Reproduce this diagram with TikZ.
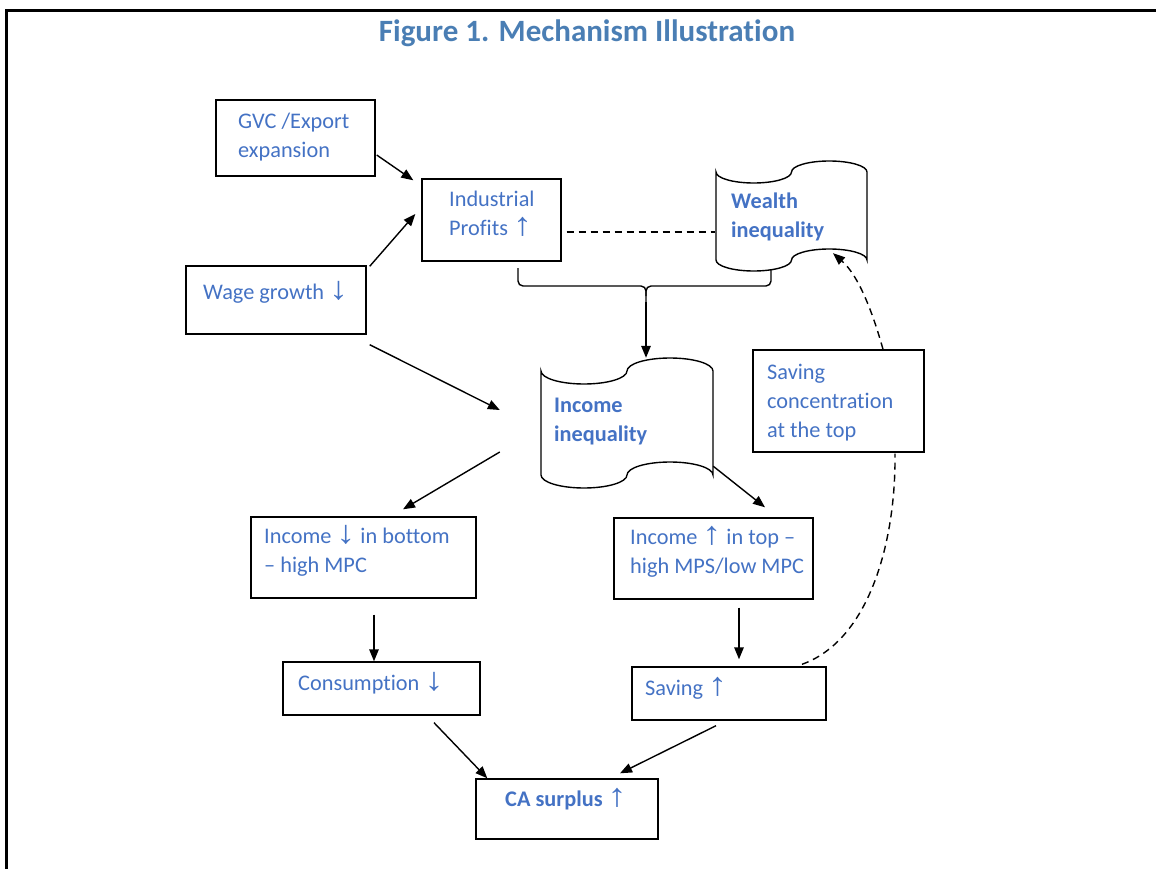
\documentclass[tikz,border=0pt]{standalone}
\usepackage{fontspec}
\usepackage{graphicx}
\setmainfont{Carlito}[Ligatures=NoCommon]
\newfontfamily\arrfont{Liberation Sans}
\usetikzlibrary{calc,arrows.meta}
\definecolor{tblue}{HTML}{4472C4}
\definecolor{hblue}{HTML}{4A7EB4}
\newcommand{\upa}{\scalebox{1.7}[1.45]{\arrfont\char"2191}}
\newcommand{\dna}{\scalebox{1.7}[1.45]{\arrfont\char"2193}}
\newcommand{\tapepath}[4]{%
  \draw[tapeline] (#1,#2+0.1*#4)
    arc[start angle=180,end angle=0,x radius=#3/4,y radius=#4/10]
    arc[start angle=180,end angle=360,x radius=#3/4,y radius=#4/10]
    -- (#1+#3,#2+0.9*#4)
    arc[start angle=0,end angle=-180,x radius=#3/4,y radius=#4/10]
    arc[start angle=0,end angle=180,x radius=#3/4,y radius=#4/10]
    -- cycle;}
\begin{document}
\begin{tikzpicture}[x=1pt,y=-1pt,
  box/.style={draw, line width=1.4pt, inner sep=0pt},
  holder/.style={draw=none, inner sep=0pt},
  tapeline/.style={line width=1.4pt},
  txt/.style={anchor=base west, inner sep=0pt, align=left, text=tblue,
    font=\fontsize{22.3}{29}\selectfont},
  btxt/.style={txt, font=\bfseries\fontsize{22.3}{29}\selectfont},
  arr/.style={line width=1.4pt, -{Triangle[length=12pt,width=9.5pt]}},
  dsh/.style={line width=1.4pt, dash pattern=on 7pt off 5pt}]
\useasboundingbox (0,0) rectangle (1156,869);
% frame
\draw[line width=3pt] (5,11) -- (1156,11);
\draw[line width=2.5pt] (6.5,9.5) -- (6.5,869);
% title
\node[anchor=base, inner sep=0pt, text=hblue, font=\bfseries\fontsize{31}{34}\selectfont] (title) at (587,42) {Figure 1. Mechanism Illustration};
% boxes
\node[box, minimum width=159pt, minimum height=76pt] (gvc) at (295.5,138) {};
\node[box, minimum width=139pt, minimum height=82pt] (ip) at (491.5,220) {};
\node[box, minimum width=180pt, minimum height=68pt] (wage) at (276,300) {};
\node[box, minimum width=171pt, minimum height=102pt] (sc) at (838.5,401) {};
\node[box, minimum width=225pt, minimum height=81pt] (ib) at (363.5,557.5) {};
\node[box, minimum width=199pt, minimum height=81pt] (it) at (713.5,558.5) {};
\node[box, minimum width=197pt, minimum height=53pt] (cons) at (381.5,688.5) {};
\node[box, minimum width=194pt, minimum height=53pt] (sav) at (729,693.5) {};
\node[box, minimum width=182pt, minimum height=60pt] (ca) at (567,809) {};
% tape shapes
\node[holder, minimum width=151pt, minimum height=110pt] (wealth) at (791.5,216) {};
\tapepath{716}{161}{151}{110}
\node[holder, minimum width=172pt, minimum height=130pt] (inc) at (627,423) {};
\tapepath{541}{358}{172}{130}
% texts (base = baseline of last line)
\node[txt] (gvct) at (238,158) {GVC /Export\\expansion};
\node[txt] (ipt) at (449,236) {Industrial\\Profits \upa};
\node[txt] (waget) at (203,299) {Wage growth \dna};
\node[btxt] (wealtht) at (731,237) {Wealth\\inequality};
\node[btxt] (inct) at (554,441) {Income\\inequality};
\node[txt] (sct) at (767,437) {Saving\\concentration\\at the top};
\node[txt] (ibt) at (264,572) {Income \dna{} in bottom\\– high MPC};
\node[txt] (itt) at (630,573) {Income \upa{} in top –\\high MPS/low MPC};
\node[txt] (const) at (298,690) {Consumption \dna};
\node[txt] (savt) at (645,695) {Saving \upa};
\node[btxt] (cat) at (505,806) {CA surplus \upa};
% brace
\draw[line width=1.4pt, rounded corners=5pt] (518,268) -- (518,286) -- (646,286) -- (646,302);
\draw[line width=1.4pt, rounded corners=5pt] (771,270) -- (771,286) -- (646,286) -- (646,296);
\coordinate (bt) at (646,302);
% arrows
\draw[arr] ($(gvc.east)+(1,17)$) -- ($(ip.north west)+(-8,2)$);
\draw[arr] ($(wage.north east)+(3,1)$) -- ($(ip.west)+(-6,-6)$);
\draw[arr] ($(wage.south east)+(3,10)$) -- ($(inc.west)+(-41,-13)$);
\draw[arr] (bt) -- (bt |- inc.north);
\draw[arr] ($(inc.west)+(-41,29)$) -- ($(ib.north)+(39.5,-7)$);
\draw[arr] ($(inc.south east)+(0,-22)$) -- ($(it.north)+(51.5,-10)$);
\draw[arr] ($(ib.south)+(10.5,16)$) -- ($(cons.north)+(-7.5,0)$);
\draw[arr] ($(it.south)+(25.5,8)$) -- ($(sav.north)+(10,-7)$);
\draw[arr] ($(cons.south)+(52.5,7)$) -- ($(ca.north west)+(12,0)$);
\draw[arr] ($(sav.south)+(-13,5)$) -- ($(ca.north)+(53,-5)$);
% dashed
\draw[dsh] ($(ip.east)+(5,12)$) -- ($(wealth.west)+(-1,16)$);
\draw[dsh, -{Triangle[length=12pt,width=9.5pt]}] ($(sc.north)+(44.5,0)$) .. controls (872,310) and (858,275) .. ($(wealth.south)+(41.5,-18)$);
\draw[dsh] ($(sav.north)+(73,-2)$) .. controls (870,640) and (896,540) .. ($(sc.south)+(56.5,1)$);
\end{tikzpicture}
\end{document}
